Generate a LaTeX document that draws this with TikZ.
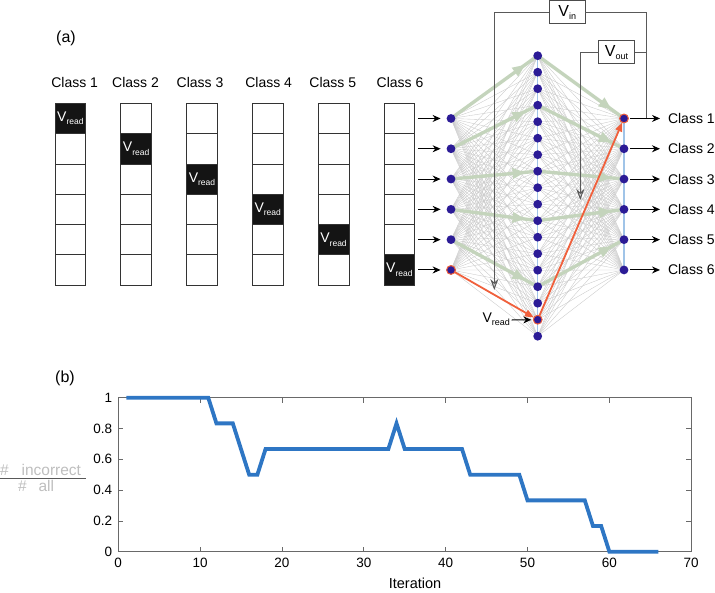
\documentclass[tikz,border=0pt]{standalone}
\usepackage{fontspec}
\setmainfont{Liberation Sans}
\usetikzlibrary{arrows.meta,decorations.markings,calc}
\pgfdeclarelayer{thin}
\pgfdeclarelayer{mid}
\pgfsetlayers{thin,mid,main}
\definecolor{nodeblue}{RGB}{43,27,150}
\definecolor{redarr}{RGB}{240,96,60}
\definecolor{greenarr}{RGB}{196,212,188}
\definecolor{lineblue}{RGB}{160,196,232}
\definecolor{plotblue}{RGB}{46,118,196}
\definecolor{axisgray}{RGB}{105,105,105}
\definecolor{labelgray}{RGB}{190,190,190}
\definecolor{thingray}{RGB}{200,200,200}
\newcommand\Vsub[2][9]{V\raisebox{-3.5pt}{\fontsize{#1}{#1}\selectfont #2}}
\begin{document}
\begin{tikzpicture}[x=1pt,y=-1pt,
  every node/.style={inner sep=0pt, outer sep=0pt},
  neuron/.style={circle, fill=nodeblue, minimum size=8.8pt},
  hot/.style={draw=redarr, line width=1pt},
  cell/.style={draw=black!80, fill=white, minimum width=30.7pt, minimum height=30.3pt, line width=0.8pt},
  readcell/.style={cell, fill=black!92, text=white, font=\fontsize{14}{16}\selectfont},
  cls/.style={font=\fontsize{14}{16}\selectfont},
  panel/.style={font=\fontsize{16}{18}\selectfont},
  thinline/.style={draw=thingray, line width=0.35pt},
  blueline/.style={draw=lineblue, line width=1.5pt},
  garrow/.style={draw=greenarr, line width=3.4pt, postaction={decorate},
    decoration={markings, mark=at position 0.86 with {\arrow[greenarr]{Triangle[length=13pt,width=10pt]}}}},
  redline/.style={draw=redarr, line width=1.8pt, -{Triangle[length=9pt,width=7pt]}},
  blk/.style={draw=black, line width=1pt, -{Stealth[length=8pt,width=7pt]}},
  feed/.style={draw=black!65, line width=1pt},
  feedarrow/.style={feed, -{Stealth[length=11pt,width=8pt,fill=black!20]}},
  vbox/.style={draw=black!70, fill=white, minimum width=36pt, minimum height=23pt, line width=0.8pt, font=\fontsize{16}{18}\selectfont},
  axis/.style={draw=axisgray, line width=0.8pt},
  tick/.style={font=\fontsize{13.5}{15}\selectfont},
  curve/.style={draw=plotblue, line width=3.8pt}
]
\useasboundingbox (0,0) rectangle (715,592);

% ---------- panel (a) ----------
\node[panel] (pa) at (66,38) {(a)};
\foreach \i/\x in {1/74.7,2/135.5,3/200,4/268.7,5/332.8,6/400}
  \node[cls] (top\i) at (\x,82.3) {Class \i};

\foreach \i in {0,...,5} {
  \foreach \k in {0,...,5} {
    \pgfmathsetmacro\cx{70.35+65.8*\i}
    \pgfmathsetmacro\cy{118.45+30.3*\k}
    \ifnum\i=\k
      \node[readcell] (c\i\k) at (\cx,\cy) {\Vsub[8.5]{read}};
    \else
      \node[cell] (c\i\k) at (\cx,\cy) {};
    \fi
  }
}

% neurons
\foreach \k in {1,...,6} {
  \pgfmathsetmacro\yy{118.45+30.3*(\k-1)}
  \node[neuron] (in\k) at (451,\yy) {};
  \node[neuron] (out\k) at (624,\yy) {};
  \coordinate (ia\k) at (418,\yy);
  \coordinate (oa\k) at (660,\yy);
  \node[cls, anchor=west] (oc\k) at (668,\yy) {Class \k};
}
\foreach \j in {1,...,18} {
  \pgfmathsetmacro\yy{55.7+16.5*(\j-1)}
  \node[neuron] (hid\j) at (537.7,\yy) {};
}
\node[neuron, hot] at (in6) {};
\node[neuron, hot] at (hid17) {};
\node[neuron, hot] at (out1) {};

% thin all-to-all connections
\begin{pgfonlayer}{thin}
\foreach \a in {1,...,6} {
  \foreach \b in {1,...,18} {
    \draw[thinline] (in\a.center) -- (hid\b.center);
    \draw[thinline] (hid\b.center) -- (out\a.center);
  }
}
\end{pgfonlayer}

\begin{pgfonlayer}{mid}
\draw[blueline] (hid1.center) -- (hid18.center);
\draw[blueline] (out1.center) -- (out6.center);
\foreach \a/\b in {1/1,2/4,3/8,4/11,5/15} {
  \draw[garrow] (in\a.center) -- (hid\b.center);
  \draw[garrow] (hid\b.center) -- (out\a.center);
}
\end{pgfonlayer}

% red path
\draw[redline] (in6) -- (hid17);
\draw[redline] (hid17) -- (out1);

% input and output arrows
\foreach \k in {1,...,6} {
  \draw[blk, shorten >=6pt] (ia\k) -- (in\k);
  \draw[blk, shorten <=2pt] (out\k) -- (oa\k);
}

% V_read at hidden node
\node[cls, anchor=east] (vrl) at (510,319) {\Vsub[9]{read}};
\coordinate (vra) at (511.7,320);
\draw[blk, shorten >=2pt] (vra) -- (hid17);

% V_in and V_out
\node[vbox] (vin) at (567.3,12.3) {\Vsub{in}};
\node[vbox] (vout) at (616.5,52.3) {\Vsub{out}};
\coordinate (vinL) at (494.3,12.3);
\coordinate (vinT) at (494.3,290);
\coordinate (vinR) at (646,12.3);
\coordinate (voutR) at (646,52.3);
\coordinate (voutL) at (580.3,52.3);
\coordinate (voutT) at (580.3,200);
\draw[feedarrow] (vin.west) -- (vinL) -- (vinT);
\draw[feed] (vin.east) -- (vinR) -- (vinR |- out1);
\draw[feed] (vout.east) -- (voutR);
\draw[feedarrow] (vout.west) -- (voutL) -- (voutT);

% ---------- panel (b) ----------
\node[panel] (pb) at (65,378) {(b)};
\begin{scope}[shift={(118.2pt,-551.7pt)}, x=8.186pt, y=154pt]
  \draw[axis] (0,0) rectangle (70,1);
  \foreach \t in {0,10,...,70} {
    \draw[axis] (\t,0) -- ++(0pt,5pt);
    \draw[axis] (\t,1) -- ++(0pt,-5pt);
    \node[tick, anchor=north] (xt\t) at ([yshift=-6.5pt]\t,0) {\t};
  }
  \foreach \v/\l in {0/0,0.2/0.2,0.4/0.4,0.6/0.6,0.8/0.8,1/1} {
    \draw[axis] (0,\v) -- ++(5pt,0pt);
    \draw[axis] (70,\v) -- ++(-5pt,0pt);
    \node[tick, anchor=east] at ([xshift=-6pt]0,\v) {\l};
  }
  \draw[curve] plot coordinates {(1,1) (11,1) (12,0.8333) (14,0.8333) (16,0.5) (17,0.5) (18,0.6667) (33,0.6667) (34,0.8333) (35,0.6667) (42,0.6667) (43,0.5) (49,0.5) (50,0.3333) (57,0.3333) (58,0.1667) (59,0.1667) (60,0) (66,0)};
\end{scope}
\node[font=\fontsize{14.5}{16}\selectfont] (xl) at (415,583) {Iteration};

% y label as fraction
\node[anchor=base west, text=labelgray, font=\fontsize{15.5}{17}\selectfont] (num) at (0,475) {\#\hspace{13pt}incorrect};
\node[anchor=base west, text=labelgray, font=\fontsize{15.5}{17}\selectfont] (den) at (18,491) {\#\hspace{12pt}all};
\coordinate (barL) at (0,478.3);
\coordinate (barR) at (85.7,478.3);
\draw[draw=black!65, line width=0.9pt] (barL) -- (barR);
\end{tikzpicture}
\end{document}
